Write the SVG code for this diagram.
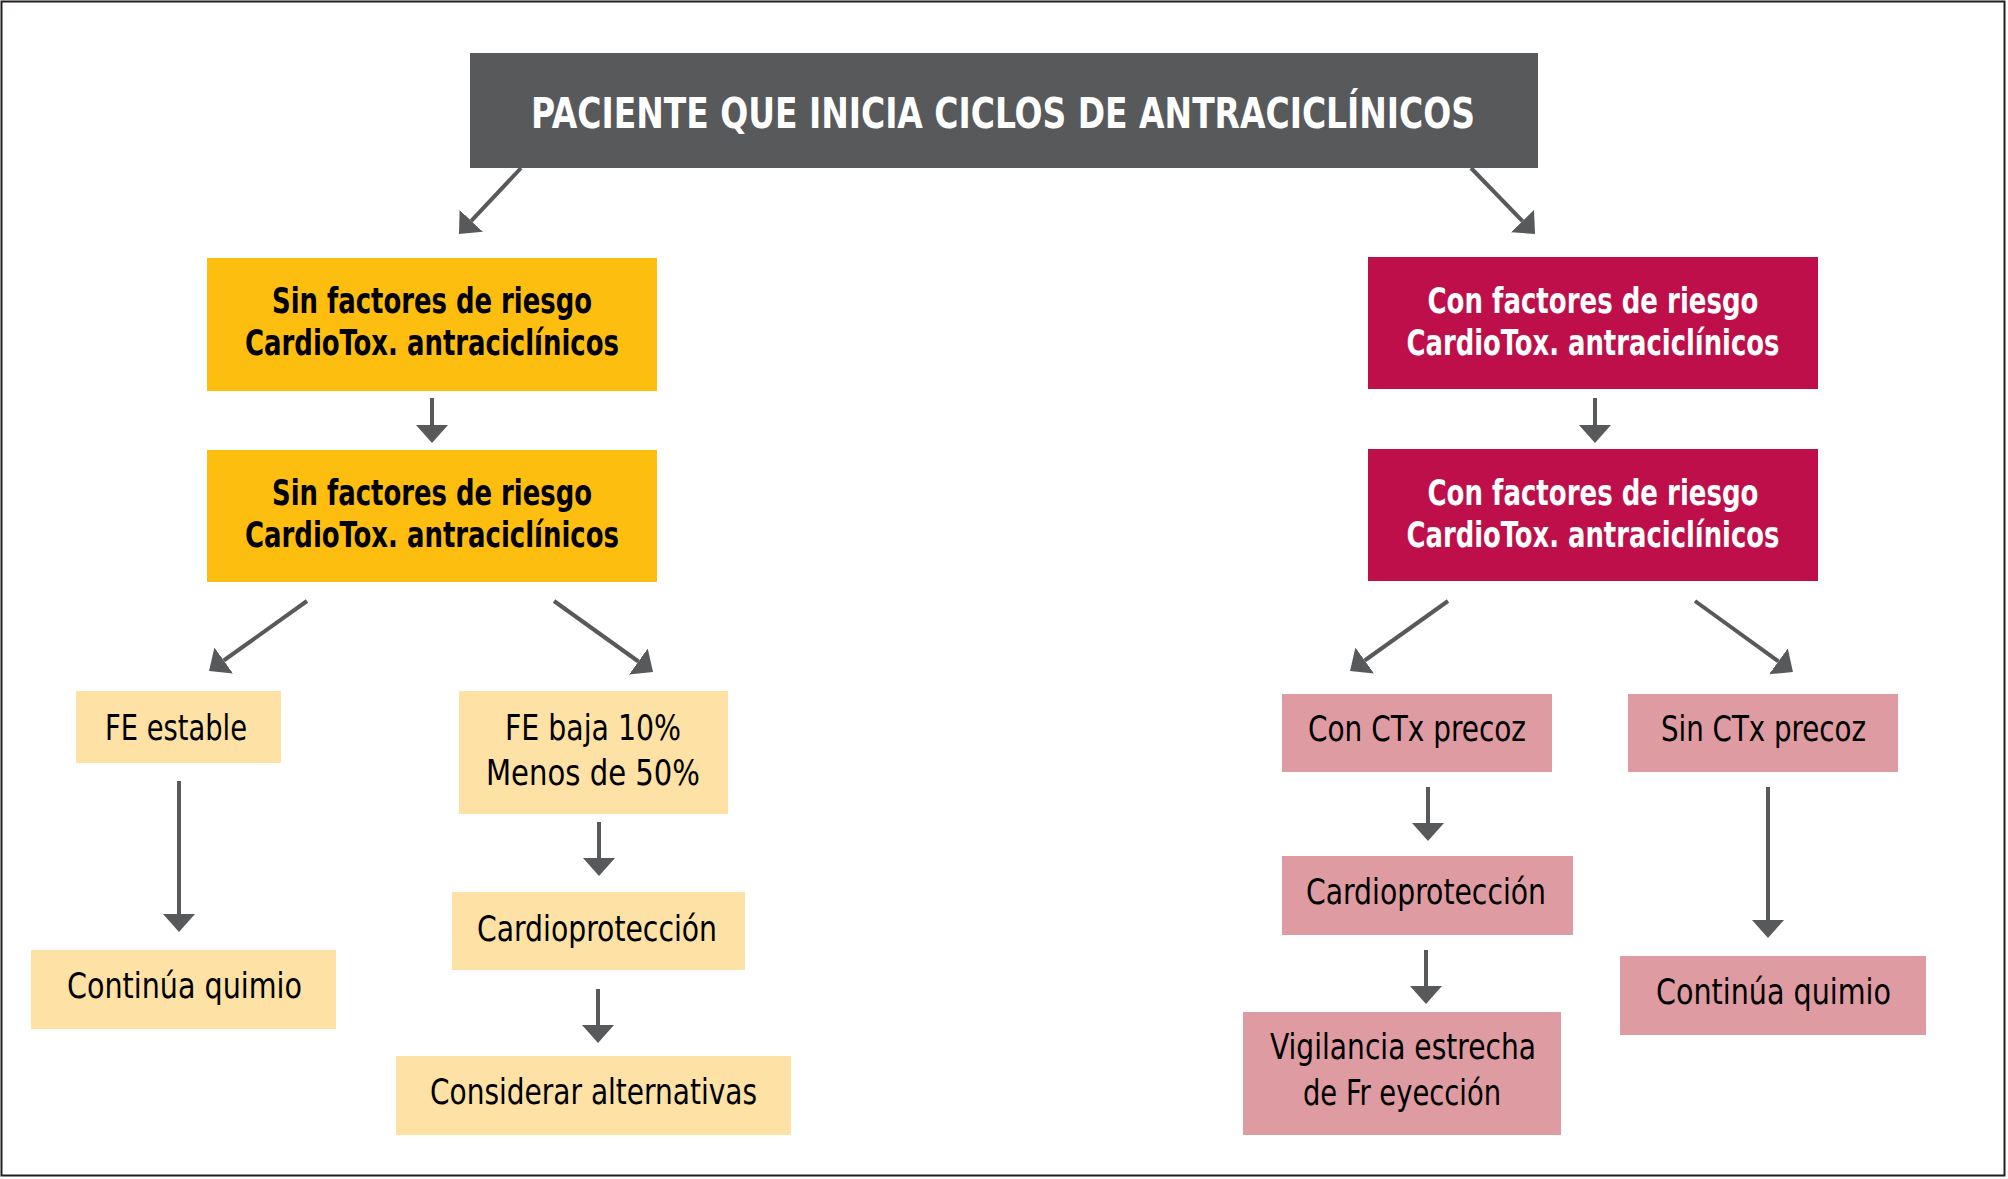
<svg xmlns="http://www.w3.org/2000/svg" width="2008" height="1179" viewBox="0 0 2008 1179">
<style>
text{font-family:"Liberation Sans Narrow","DejaVu Sans Condensed","Liberation Sans",sans-serif;font-stretch:condensed;text-anchor:middle;font-size:35px}
.b{font-weight:bold}
.title{font-size:42px;font-weight:bold;fill:#ffffff}
.dark{fill:#000000}
.white{fill:#ffffff}
.conn line{stroke:#58595b;stroke-width:4;marker-end:url(#ah)}
</style>
<defs>
<marker id="ah" viewBox="0 0 18 32" refX="0" refY="16" markerWidth="18" markerHeight="32" markerUnits="userSpaceOnUse" orient="auto">
<path d="M0,0 L18,16 L0,32 z" fill="#58595b"/>
</marker>
</defs>
<rect x="0" y="0" width="2008" height="1179" fill="#ffffff"/>
<rect x="1.5" y="1.5" width="2003" height="1174" fill="none" stroke="#231f20" stroke-width="2"/>

<g id="n-top">
<rect x="470" y="53" width="1068" height="115" fill="#58595b"/>
<text class="title" x="1003" y="128" textLength="944" lengthAdjust="spacingAndGlyphs">PACIENTE QUE INICIA CICLOS DE ANTRACICLÍNICOS</text>
</g>

<g id="n-sin1">
<rect x="207" y="258" width="450" height="133" fill="#fdbe10"/>
<text class="b dark" x="432" y="313" textLength="320" lengthAdjust="spacingAndGlyphs">Sin factores de riesgo</text>
<text class="b dark" x="432" y="355" textLength="374" lengthAdjust="spacingAndGlyphs">CardioTox. antraciclínicos</text>
</g>
<g id="n-sin2">
<rect x="207" y="450" width="450" height="132" fill="#fdbe10"/>
<text class="b dark" x="432" y="505" textLength="320" lengthAdjust="spacingAndGlyphs">Sin factores de riesgo</text>
<text class="b dark" x="432" y="547" textLength="374" lengthAdjust="spacingAndGlyphs">CardioTox. antraciclínicos</text>
</g>
<g id="n-con1">
<rect x="1368" y="257" width="450" height="132" fill="#be0f4a"/>
<text class="b white" x="1593" y="313" textLength="331" lengthAdjust="spacingAndGlyphs">Con factores de riesgo</text>
<text class="b white" x="1593" y="355" textLength="373" lengthAdjust="spacingAndGlyphs">CardioTox. antraciclínicos</text>
</g>
<g id="n-con2">
<rect x="1368" y="449" width="450" height="132" fill="#be0f4a"/>
<text class="b white" x="1593" y="505" textLength="331" lengthAdjust="spacingAndGlyphs">Con factores de riesgo</text>
<text class="b white" x="1593" y="547" textLength="373" lengthAdjust="spacingAndGlyphs">CardioTox. antraciclínicos</text>
</g>

<g id="n-fe-estable">
<rect x="76" y="691" width="205" height="72" fill="#fde1a5"/>
<text class="dark" x="176" y="740" textLength="142" lengthAdjust="spacingAndGlyphs">FE estable</text>
</g>
<g id="n-continua-1">
<rect x="31" y="950" width="305" height="79" fill="#fde1a5"/>
<text class="dark" x="184.5" y="998" textLength="235" lengthAdjust="spacingAndGlyphs">Continúa quimio</text>
</g>
<g id="n-fe-baja">
<rect x="459" y="691" width="269" height="123" fill="#fde1a5"/>
<text class="dark" x="593" y="740" textLength="176" lengthAdjust="spacingAndGlyphs">FE baja 10%</text>
<text class="dark" x="593" y="785" textLength="214" lengthAdjust="spacingAndGlyphs">Menos de 50%</text>
</g>
<g id="n-cardio-1">
<rect x="452" y="892" width="293" height="78" fill="#fde1a5"/>
<text class="dark" x="597" y="941" textLength="240" lengthAdjust="spacingAndGlyphs">Cardioprotección</text>
</g>
<g id="n-considerar">
<rect x="396" y="1056" width="395" height="79" fill="#fde1a5"/>
<text class="dark" x="593.5" y="1104" textLength="327" lengthAdjust="spacingAndGlyphs">Considerar alternativas</text>
</g>

<g id="n-con-ctx">
<rect x="1282" y="694" width="270" height="78" fill="#df9ba2"/>
<text class="dark" x="1417" y="741" textLength="218" lengthAdjust="spacingAndGlyphs">Con CTx precoz</text>
</g>
<g id="n-sin-ctx">
<rect x="1628" y="694" width="270" height="78" fill="#df9ba2"/>
<text class="dark" x="1763.5" y="741" textLength="205" lengthAdjust="spacingAndGlyphs">Sin CTx precoz</text>
</g>
<g id="n-cardio-2">
<rect x="1282" y="856" width="291" height="79" fill="#df9ba2"/>
<text class="dark" x="1426" y="904" textLength="240" lengthAdjust="spacingAndGlyphs">Cardioprotección</text>
</g>
<g id="n-vigilancia">
<rect x="1243" y="1012" width="318" height="123" fill="#df9ba2"/>
<text class="dark" x="1403" y="1059" textLength="266" lengthAdjust="spacingAndGlyphs">Vigilancia estrecha</text>
<text class="dark" x="1402" y="1105" textLength="198" lengthAdjust="spacingAndGlyphs">de Fr eyección</text>
</g>
<g id="n-continua-2">
<rect x="1620" y="956" width="306" height="79" fill="#df9ba2"/>
<text class="dark" x="1773.5" y="1004" textLength="235" lengthAdjust="spacingAndGlyphs">Continúa quimio</text>
</g>

<g id="connectors" class="conn">
<line x1="521" y1="168" x2="471.3" y2="220.9"/>
<line x1="1471" y1="168" x2="1522.5" y2="221.1"/>
<line x1="432" y1="398" x2="432" y2="425"/>
<line x1="1595" y1="398" x2="1595" y2="425"/>
<line x1="307" y1="601" x2="223.7" y2="660.5"/>
<line x1="554" y1="601" x2="638.4" y2="661.5"/>
<line x1="1448" y1="601" x2="1364.7" y2="660.5"/>
<line x1="1695" y1="601" x2="1778.4" y2="661.4"/>
<line x1="179" y1="781" x2="179" y2="914"/>
<line x1="599" y1="822" x2="599" y2="858"/>
<line x1="598" y1="989" x2="598" y2="1025"/>
<line x1="1428" y1="787" x2="1428" y2="823"/>
<line x1="1426" y1="950" x2="1426" y2="986"/>
<line x1="1768" y1="787" x2="1768" y2="920"/>
</g>
</svg>
